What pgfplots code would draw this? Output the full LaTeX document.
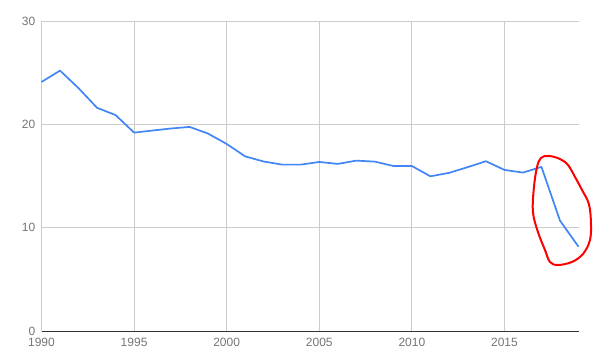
\documentclass[border=0pt]{standalone}
\usepackage{pgfplots}
\pgfplotsset{compat=1.18}
\usepackage{fontspec}
\setmainfont{Liberation Sans}
\definecolor{gline}{HTML}{4285F4}
\definecolor{gridc}{HTML}{CCCCCC}
\definecolor{tickc}{HTML}{757575}
\definecolor{basec}{HTML}{333333}
\begin{document}
\begin{tikzpicture}
\begin{axis}[
  scale only axis, width=537pt, height=310pt,
  xmin=1990, xmax=2019, ymin=0, ymax=30,
  xtick={1990,1995,2000,2005,2010,2015},
  ytick={0,10,20,30},
  axis line style={draw=none},
  tick style={draw=none},
  grid=major,
  major grid style={gridc, line width=0.8pt},
  /pgf/number format/assume math mode=true,
  /pgf/number format/1000 sep={},
  tick label style={font=\fontsize{12}{14}\selectfont, text=tickc, inner sep=1pt},
  xticklabel style={yshift=-6pt},
  yticklabel style={xshift=-5pt},
  clip=false,
]
\draw[basec, line width=1pt] (axis cs:1990,0) -- (axis cs:2019,0);
\addplot[gline, line width=1.7pt, line join=round] coordinates {
(1990,24.1) (1991,25.2) (1992,23.5) (1993,21.6) (1994,20.9)
(1995,19.2) (1996,19.4) (1997,19.6) (1998,19.75) (1999,19.1)
(2000,18.1) (2001,16.9) (2002,16.4) (2003,16.1) (2004,16.1)
(2005,16.36) (2006,16.17) (2007,16.49) (2008,16.39) (2009,15.97)
(2010,15.97) (2011,14.97) (2012,15.3) (2013,15.85) (2014,16.43)
(2015,15.59) (2016,15.33) (2017,15.88) (2018,10.68) (2019,8.16)
};
\draw[red, line width=2pt] plot[smooth cycle, tension=0.6] coordinates {
(axis cs:2017.40,16.94) (axis cs:2017.99,16.65) (axis cs:2018.43,16.07)
(axis cs:2018.81,14.91) (axis cs:2019.19,13.65) (axis cs:2019.56,12.29)
(axis cs:2019.67,10.55) (axis cs:2019.62,8.81) (axis cs:2019.24,7.45)
(axis cs:2018.64,6.68) (axis cs:2017.89,6.39) (axis cs:2017.46,6.68)
(axis cs:2017.19,7.84) (axis cs:2016.81,9.58) (axis cs:2016.54,11.52)
(axis cs:2016.59,13.84) (axis cs:2016.75,15.78) (axis cs:2016.97,16.75)
};
\end{axis}
\pgfresetboundingbox
\path (current axis.south west) ++(-41.5pt,-29pt) rectangle ++(594pt,360pt);
\end{tikzpicture}
\end{document}
